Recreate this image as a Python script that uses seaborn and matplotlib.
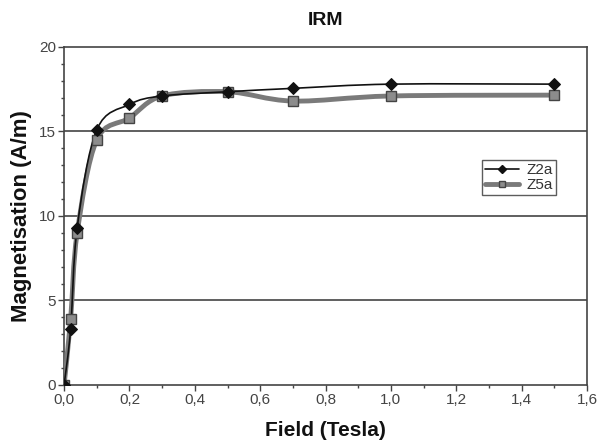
import matplotlib
matplotlib.use("Agg")
import matplotlib.pyplot as plt
import seaborn as sns
import pandas as pd
from matplotlib.path import Path
from matplotlib.patches import PathPatch
from matplotlib.lines import Line2D
from matplotlib.ticker import MultipleLocator, FuncFormatter

field = [0.0, 0.02, 0.04, 0.1, 0.2, 0.3, 0.5, 0.7, 1.0, 1.5]
z2a = [0.0, 3.3, 9.3, 15.1, 16.6, 17.1, 17.35, 17.55, 17.8, 17.8]
z5a = [0.0, 3.9, 9.0, 14.5, 15.8, 17.1, 17.35, 16.8, 17.1, 17.15]
series_names = ["Z2a", "Z5a"]

sns.set_theme(style="white")
plt.rcParams['font.family'] = ['Liberation Sans', 'DejaVu Sans']

df = pd.DataFrame({
    "Field": field * 2,
    "M": z2a + z5a,
    "Series": [series_names[0]] * len(field) + [series_names[1]] * len(field),
})

fig = plt.figure(figsize=(5.99, 4.43), dpi=100)
ax = fig.add_axes([0.107, 0.131, 0.873, 0.763])


def smooth_path(xs, ys):
    """Excel-style smoothed curve: cubic Bezier segments through the data points."""
    pts = list(zip(xs, ys))
    n = len(pts)
    verts = [pts[0]]
    codes = [Path.MOVETO]
    for i in range(n - 1):
        p0 = pts[i - 1] if i > 0 else pts[i]
        p1 = pts[i]
        p2 = pts[i + 1]
        p3 = pts[i + 2] if i + 2 < n else pts[i + 1]
        c1 = (p1[0] + (p2[0] - p0[0]) / 6, p1[1] + (p2[1] - p0[1]) / 6)
        c2 = (p2[0] - (p3[0] - p1[0]) / 6, p2[1] - (p3[1] - p1[1]) / 6)
        verts += [c1, c2, p2]
        codes += [Path.CURVE4] * 3
    return Path(verts, codes)


z5_color = "#7a7a7a"
z2_color = "#111111"

ax.add_patch(PathPatch(smooth_path(field, z5a), fill=False, edgecolor=z5_color,
                       linewidth=3.5, capstyle="round", joinstyle="round", zorder=3))
ax.add_patch(PathPatch(smooth_path(field, z2a), fill=False, edgecolor=z2_color,
                       linewidth=1.2, zorder=4))

sns.lineplot(data=df[df.Series == "Z5a"], x="Field", y="M", ax=ax,
             linestyle="", marker="s", markersize=7,
             markerfacecolor="#8c8c8c", markeredgecolor="#444444",
             markeredgewidth=1.0, color=z5_color, zorder=5, legend=False)
sns.lineplot(data=df[df.Series == "Z2a"], x="Field", y="M", ax=ax,
             linestyle="", marker="D", markersize=6,
             markerfacecolor=z2_color, markeredgecolor=z2_color,
             color=z2_color, zorder=6, legend=False)

ax.set_xlim(0, 1.6)
ax.set_ylim(0, 20)
ax.xaxis.set_major_locator(MultipleLocator(0.2))
ax.xaxis.set_minor_locator(MultipleLocator(0.1))
ax.yaxis.set_major_locator(MultipleLocator(5))
ax.yaxis.set_minor_locator(MultipleLocator(1))
ax.xaxis.set_major_formatter(FuncFormatter(lambda v, p: f"{v:.1f}".replace(".", ",")))
ax.yaxis.set_major_formatter(FuncFormatter(lambda v, p: f"{v:.0f}"))

for yv in [5, 10, 15]:
    ax.axhline(yv, color="#444444", linewidth=1.2, zorder=1)

for s in ax.spines.values():
    s.set_color("#444444")
    s.set_linewidth(1.2)

ax.tick_params(axis="both", which="major", direction="out", length=4,
               width=1, color="#444444", labelsize=11, labelcolor="#444444",
               left=True, bottom=True, pad=2)
ax.tick_params(axis="both", which="minor", direction="out", length=2.5,
               width=1, color="#444444", left=True, bottom=True)

ax.set_xlabel("Field (Tesla)", fontsize=15, fontweight="bold", color="#111111", labelpad=10)
ax.set_ylabel("Magnetisation (A/m)", fontsize=16, fontweight="bold", color="#111111", labelpad=5)
ax.set_title("IRM", fontsize=14, fontweight="bold", color="#111111", pad=16)

handles = [
    Line2D([], [], color=z2_color, linewidth=1.2, marker="D", markersize=4.5,
           markerfacecolor=z2_color, markeredgecolor=z2_color),
    Line2D([], [], color=z5_color, linewidth=3.5, marker="s", markersize=5,
           markerfacecolor="#8c8c8c", markeredgecolor="#444444"),
]
leg = ax.legend(handles, series_names,
                loc="upper left", bbox_to_anchor=(0.8, 0.665), frameon=True,
                fancybox=False, edgecolor="#333333", fontsize=11,
                handlelength=2.2, borderpad=0.2, labelspacing=0.05,
                handletextpad=0.5, borderaxespad=0)
leg.get_frame().set_linewidth(1.0)
for t in leg.get_texts():
    t.set_color("#333333")

fig.savefig("out.png", dpi=100)
